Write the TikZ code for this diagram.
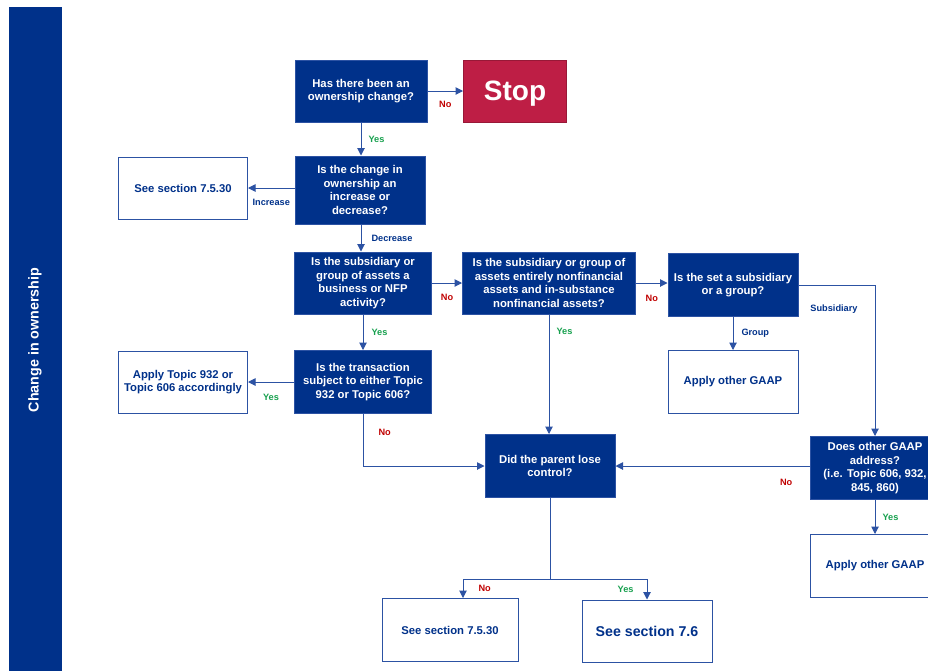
\documentclass[tikz,border=0pt]{standalone}
\usepackage{fontspec}
\setmainfont{Liberation Sans}
\usetikzlibrary{arrows.meta,positioning}
\definecolor{navy}{HTML}{00318A}
\definecolor{linkblue}{HTML}{2C52A3}
\definecolor{crimson}{HTML}{BE1E45}
\definecolor{nored}{HTML}{C00000}
\definecolor{yesgreen}{HTML}{17A04E}

\begin{document}
\begin{tikzpicture}[x=1pt,y=-1pt,
  qbox/.style={draw=linkblue,line width=1pt,fill=navy,text=white,align=center,inner sep=1pt,
    font=\bfseries\fontsize{11.3}{13.6}\selectfont,minimum width=130pt,minimum height=63pt},
  rbox/.style={draw=linkblue,line width=1pt,fill=white,text=navy,align=center,inner sep=1pt,
    font=\bfseries\fontsize{11.3}{13.6}\selectfont,minimum width=130pt,minimum height=63pt},
  arr/.style={-{Triangle[length=7.5pt,width=7.5pt]},line width=1pt,draw=linkblue},
  lab/.style={font=\bfseries\fontsize{9.2}{11}\selectfont,inner sep=0pt,text=navy},
  nolab/.style={lab,text=nored},
  yeslab/.style={lab,text=yesgreen}
]
\useasboundingbox (0,0) rectangle (928,670);
\fill[navy] (9,7) rectangle (62,672);
\node[rotate=90,text=white,font=\bfseries\fontsize{14.3}{16}\selectfont] (side) at (35,340) {Change in ownership};

% questions
\node[qbox,minimum width=132pt,minimum height=62pt] (owner) at (361,91) {Has there been an\\ownership change?};
\node[qbox,fill=crimson,draw=crimson!80!black,minimum width=103pt,minimum height=62pt,
  font=\bfseries\fontsize{28}{30}\selectfont] (stop) at (515,91) {\raisebox{-3pt}[\height][\depth]{Stop}};
\node[qbox,minimum height=68pt] (incdec) at (360,190) {Is the change in\\ownership an\\increase or\\decrease?};
\node[qbox,minimum width=137pt,minimum height=62pt] (business) at (363,283) {Is the subsidiary or\\group of assets a\\business or NFP\\activity?};
\node[qbox,minimum width=173pt,minimum height=62pt] (nonfin) at (549,283) {Is the subsidiary or group of\\assets entirely nonfinancial\\assets and in-substance\\nonfinancial assets?};
\node[qbox] (setgrp) at (733,285) {Is the set a subsidiary\\or a group?};
\node[qbox,minimum width=137pt] (topic) at (363,382) {Is the transaction\\subject to either Topic\\932 or Topic 606?};
\node[qbox] (lose) at (550,466) {Did the parent lose\\control?};
\node[qbox] (gaap) at (875,468) {Does other GAAP\\address?\\(i.e. Topic 606, 932,\\845, 860)};

% results
\node[rbox,minimum width=129pt,minimum height=62pt] (sec1) at (183,188) {See section 7.5.30};
\node[rbox] (other1) at (733,382) {Apply other GAAP};
\node[rbox,minimum width=129pt,minimum height=62pt] (apply) at (183,382) {Apply Topic 932 or\\Topic 606 accordingly};
\node[rbox] (other2) at (875,566) {Apply other GAAP};
\node[rbox,minimum width=136pt] (sec2) at (450,630) {See section 7.5.30};
\node[rbox,minimum height=62pt,font=\bfseries\fontsize{14.2}{16}\selectfont] (sec3) at (647,631) {See section 7.6};

% connectors
\draw[arr] (owner.east) -- (stop.west) node[nolab,midway,below=10pt] {No};
\draw[arr] (owner.south) -- (owner.south |- incdec.north) node[yeslab,midway,right=7pt] {Yes};
\draw[arr] (incdec.west |- sec1) -- (sec1.east) node[lab,midway,below=11pt] {Increase};
\draw[arr] (owner.south |- incdec.south) -- (owner.south |- business.north) node[lab,midway,right=10pt] {Decrease};
\draw[arr] (business.east) -- (nonfin.west) node[nolab,midway,below=11pt] {No};
\draw[arr] (nonfin.east) -- (nonfin.east -| setgrp.west) node[nolab,midway,below=12pt] {No};
\draw[arr] (setgrp.east) -| (gaap.north) node[lab,pos=0.5,anchor=north east,xshift=-17pt,yshift=-19pt] {Subsidiary};
\draw[arr] (setgrp.south) -- (other1.north) node[lab,midway,right=8pt] {Group};
\draw[arr] (business.south) -- (topic.north) node[yeslab,midway,right=8pt] {Yes};
\draw[arr] (topic.west |- apply) -- (apply.east) node[yeslab,midway,below=12pt] {Yes};
\draw[arr] (topic.south) |- (lose.west) node[nolab,pos=0.18,right=15pt] {No};
\draw[arr] (nonfin.south) -- (nonfin.south |- lose.north) node[yeslab,pos=0.14,right=7pt] {Yes};
\draw[arr] (gaap.west |- lose.east) -- (lose.east) node[nolab,pos=0.12,below=13pt] {No};
\draw[arr] (gaap.south) -- (other2.north) node[yeslab,midway,right=7pt] {Yes};
\coordinate (fork) at (550,579);
\draw[line width=1pt,draw=linkblue] (lose.south) -- (fork);
\draw[arr] (fork) -| ([xshift=13pt]sec2.north) node[nolab,pos=0.5,anchor=west,xshift=15pt,yshift=-9pt] {No};
\draw[arr] (fork) -| (sec3.north) node[yeslab,pos=0.5,anchor=east,xshift=-13pt,yshift=-10pt] {Yes};
\end{tikzpicture}
\end{document}
